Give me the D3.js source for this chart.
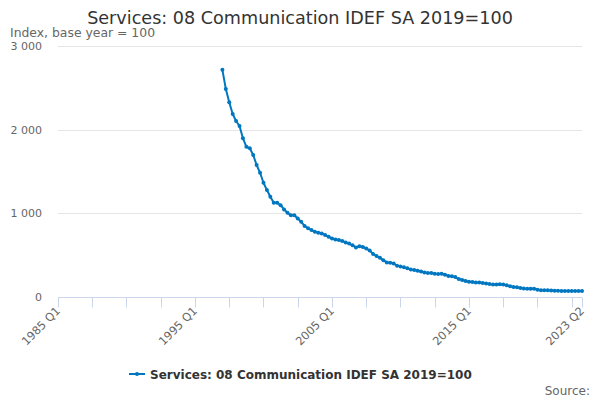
<!DOCTYPE html>
<html>
<head>
<meta charset="utf-8">
<script src="https://cdn.jsdelivr.net/npm/d3@7"></script>
<style>
  html, body { margin: 0; padding: 0; background: #fff; }
  svg { display: block; font-family: "DejaVu Sans", sans-serif; }
</style>
</head>
<body>
<div id="chart"></div>
<script>
const WIDTH = 600;
const HEIGHT = 400;

const TITLE = "Services: 08 Communication IDEF SA 2019=100";
const SUBTITLE = "Index, base year = 100";
const SERIES_NAME = "Services: 08 Communication IDEF SA 2019=100";

// Quarterly categories, 1985 Q1 .. 2023 Q2
const FIRST_YEAR = 1985;
const LAST_YEAR = 2023;
const LAST_QUARTER = 2;
const categories = [];
for (let y = FIRST_YEAR; y <= LAST_YEAR; y++) {
  for (let q = 1; q <= 4; q++) {
    if (y === LAST_YEAR && q > LAST_QUARTER) break;
    categories.push(`${y} Q${q}`);
  }
}

// Series starts in 1997 Q1
const SERIES_START = "1997 Q1";
const seriesValues = [
  2715, 2487, 2328, 2188, 2104, 2044, 1897, 1796, 1777, 1697,
  1577, 1485, 1365, 1278, 1198, 1126, 1126, 1098, 1047, 1006,
  978, 978, 939, 898, 850, 822, 800, 780, 768, 760,
  740, 720, 700, 688, 680, 670, 652, 638, 618, 592,
  608, 598, 580, 555, 515, 490, 468, 440, 412, 410,
  400, 375, 365, 355, 345, 330, 322, 314, 306, 292,
  288, 286, 278, 274, 278, 265, 252, 248, 238, 215,
  204, 192, 182, 180, 174, 172, 168, 162, 154, 148,
  148, 152, 148, 140, 128, 120, 116, 108, 103, 100,
  99, 98, 88, 80, 80, 80, 78, 76, 74, 73,
  73, 72, 72, 72, 72, 72,
];

const Y_TICKS = [0, 1000, 2000, 3000];
const TICK_STEP = 10;   // tick mark every 10 quarters
const LABEL_STEP = 40;  // label every 40 quarters

const margin = { top: 46, right: 18, bottom: 103, left: 58 };

const startIndex = categories.indexOf(SERIES_START);
const points = seriesValues.map((v, i) => ({ cat: categories[startIndex + i], value: v }));

const x = d3.scalePoint()
  .domain(categories)
  .range([margin.left, WIDTH - margin.right]);

const y = d3.scaleLinear()
  .domain([0, 3000])
  .range([HEIGHT - margin.bottom, margin.top]);

const svg = d3.select("#chart")
  .append("svg")
  .attr("width", WIDTH)
  .attr("height", HEIGHT)
  .attr("viewBox", [0, 0, WIDTH, HEIGHT]);

// Title and subtitle
svg.append("text")
  .attr("x", WIDTH / 2)
  .attr("y", 24)
  .attr("text-anchor", "middle")
  .style("font-size", "17.6px")
  .style("fill", "#333333")
  .text(TITLE);

svg.append("text")
  .attr("x", 10)
  .attr("y", 37)
  .style("font-size", "12.4px")
  .style("fill", "#666666")
  .text(SUBTITLE);

// Gridlines + y labels
const yFormat = (d) => d3.format(",")(d).replace(/,/g, " ");
const yAxis = svg.append("g");
yAxis.selectAll("line")
  .data(Y_TICKS.filter((d) => d > 0))
  .join("line")
  .attr("x1", margin.left)
  .attr("x2", WIDTH - margin.right)
  .attr("y1", (d) => Math.round(y(d)) + 0.5)
  .attr("y2", (d) => Math.round(y(d)) + 0.5)
  .attr("stroke", "#e6e6e6");

yAxis.selectAll("text")
  .data(Y_TICKS)
  .join("text")
  .attr("x", 42)
  .attr("y", (d) => y(d) + 4)
  .attr("text-anchor", "end")
  .style("font-size", "11px")
  .style("fill", "#666666")
  .text(yFormat);

// X axis
const xAxis = svg.append("g");
const axisY = Math.round(y(0)) + 0.5;
xAxis.append("line")
  .attr("x1", margin.left)
  .attr("x2", WIDTH - margin.right)
  .attr("y1", axisY)
  .attr("y2", axisY)
  .attr("stroke", "#ccd6eb");

const tickCats = categories.filter((c, i) => i % TICK_STEP === 0 || i === categories.length - 1);
xAxis.selectAll("line.tick")
  .data(tickCats)
  .join("line")
  .attr("class", "tick")
  .attr("x1", (d) => Math.round(x(d)) + 0.5)
  .attr("x2", (d) => Math.round(x(d)) + 0.5)
  .attr("y1", axisY)
  .attr("y2", axisY + 10)
  .attr("stroke", "#ccd6eb");

const labelCats = categories.filter((c, i) => i % LABEL_STEP === 0 || i === categories.length - 1);
xAxis.selectAll("text")
  .data(labelCats)
  .join("text")
  .attr("transform", (d) => `translate(${x(d) + 3},${axisY + 14}) rotate(-45)`)
  .attr("text-anchor", "end")
  .style("font-size", "11.4px")
  .style("fill", "#666666")
  .text((d) => d);

// Series
const COLOR = "#0077c0";
const line = d3.line()
  .x((d) => x(d.cat))
  .y((d) => y(d.value));

svg.append("path")
  .datum(points)
  .attr("fill", "none")
  .attr("stroke", COLOR)
  .attr("stroke-width", 2)
  .attr("stroke-linejoin", "round")
  .attr("d", line);

svg.append("g")
  .selectAll("circle")
  .data(points)
  .join("circle")
  .attr("cx", (d) => x(d.cat))
  .attr("cy", (d) => y(d.value))
  .attr("r", 2)
  .attr("fill", COLOR);

// Legend
const legend = svg.append("g").attr("transform", "translate(129,374)");
legend.append("line")
  .attr("x1", 0).attr("x2", 16)
  .attr("y1", 0).attr("y2", 0)
  .attr("stroke", COLOR)
  .attr("stroke-width", 2);
legend.append("circle")
  .attr("cx", 8).attr("cy", 0).attr("r", 2)
  .attr("fill", COLOR);
legend.append("text")
  .attr("x", 21)
  .attr("y", 4.5)
  .style("font-size", "12px")
  .style("font-weight", "bold")
  .style("fill", "#333333")
  .text(SERIES_NAME);

// Credits
svg.append("text")
  .attr("x", 590)
  .attr("y", 395)
  .attr("text-anchor", "end")
  .style("font-size", "12px")
  .style("fill", "#666666")
  .text("Source:");
</script>
</body>
</html>
